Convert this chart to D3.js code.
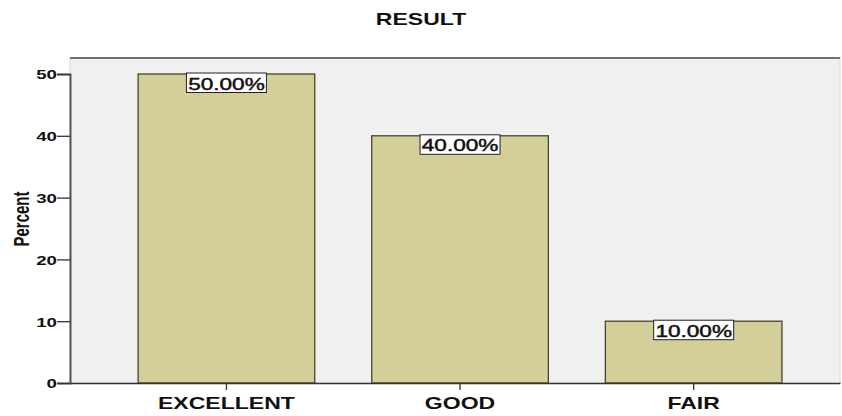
<!DOCTYPE html>
<html>
<head>
<meta charset="utf-8">
<script src="https://cdn.jsdelivr.net/npm/d3@7"></script>
<style>
  body { margin: 0; background: #fff; }
  text { font-family: "Liberation Sans", Arial, sans-serif; }
</style>
</head>
<body>
<div id="canvas"></div>
<script>
const categories = ['EXCELLENT', 'GOOD', 'FAIR'];
const percents = [50, 40, 10];
const yTicks = [0, 10, 20, 30, 40, 50];

const W = 842, H = 416;
const plotLeft = 70, plotRight = 840, plotTop = 58, plotBottom = 383;
const stretch = 1.44; // picture is widened sideways
const barColor = '#d4cf99', edgeColor = '#45452c';

const Svg = d3.select('#canvas').append('svg')
  .attr('width', W)
  .attr('height', H);

const xScale = d3.scaleBand()
  .domain(categories)
  .range([plotLeft, plotRight])
  .paddingInner(0.244)
  .paddingOuter(0.27)
  .align(0.54);

const yScale = d3.scaleLinear()
  .domain([0, 50])
  .range([plotBottom, 74]);

// plot background
Svg.append('rect')
  .attr('x', plotLeft).attr('y', plotTop)
  .attr('width', plotRight - plotLeft).attr('height', plotBottom - plotTop)
  .attr('fill', '#f0f0f0')
  .attr('stroke', '#d8d8d8');

Svg.append('line')
  .attr('x1', plotLeft).attr('x2', plotRight)
  .attr('y1', plotTop).attr('y2', plotTop)
  .attr('stroke', '#707070').attr('stroke-width', 2);

// bars
Svg.selectAll('rect.bar')
  .data(categories)
  .enter()
  .append('rect')
  .attr('class', 'bar')
  .attr('x', d => xScale(d))
  .attr('y', (d, i) => yScale(percents[i]))
  .attr('width', xScale.bandwidth())
  .attr('height', (d, i) => plotBottom - yScale(percents[i]))
  .attr('fill', barColor)
  .attr('stroke', edgeColor)
  .attr('stroke-width', 1.3);

// axes
const yAxis = d3.axisLeft(yScale)
  .tickValues(yTicks)
  .tickSize(13)
  .tickPadding(1);

const yG = Svg.append('g')
  .attr('transform', `translate(${plotLeft}, 0)`)
  .call(yAxis);
yG.select('.domain').attr('stroke', '#555').attr('stroke-width', 2);
yG.selectAll('.tick line').attr('stroke', '#333').attr('stroke-width', 1.3);
yG.selectAll('.tick text')
  .attr('x', 0).attr('dy', null)
  .attr('dominant-baseline', 'central')
  .attr('font-size', '13px')
  .attr('font-weight', 'bold')
  .attr('fill', '#111')
  .attr('text-anchor', 'end')
  .attr('transform', `translate(-13, 0) scale(${stretch}, 1)`);

const xAxis = d3.axisBottom(xScale)
  .tickSize(7)
  .tickSizeOuter(0);

const xG = Svg.append('g')
  .attr('transform', `translate(0, ${plotBottom})`)
  .call(xAxis);
xG.select('.domain').attr('stroke', '#333').attr('stroke-width', 1.5);
xG.selectAll('.tick line').attr('stroke', '#333').attr('stroke-width', 1.3);
xG.selectAll('.tick text')
  .attr('y', 0).attr('dy', null)
  .attr('font-size', '16px')
  .attr('font-weight', 'bold')
  .attr('fill', '#111')
  .attr('transform', `translate(0, 26) scale(${stretch}, 1)`);

// value labels
const labels = Svg.selectAll('g.label')
  .data(categories)
  .enter()
  .append('g')
  .attr('class', 'label')
  .attr('transform', (d, i) => `translate(${xScale(d) + xScale.bandwidth() / 2}, ${yScale(percents[i]) - 1})`);

labels.append('rect')
  .attr('x', -40).attr('y', 0)
  .attr('width', 80).attr('height', 19.5)
  .attr('fill', '#fff')
  .attr('stroke', '#222')
  .attr('stroke-width', 1);

labels.append('text')
  .text((d, i) => percents[i].toFixed(2) + '%')
  .attr('text-anchor', 'middle')
  .attr('font-size', '16.5px')
  .attr('fill', '#111')
  .attr('stroke', '#111')
  .attr('stroke-width', 0.45)
  .attr('transform', 'translate(0, 16.5) scale(1.37, 1)');

// titles
Svg.append('text')
  .text('RESULT')
  .attr('text-anchor', 'middle')
  .attr('font-size', '16px')
  .attr('font-weight', 'bold')
  .attr('fill', '#111')
  .attr('transform', `translate(421, 25) scale(${stretch}, 1)`);

Svg.append('text')
  .text('Percent')
  .attr('text-anchor', 'middle')
  .attr('dominant-baseline', 'central')
  .attr('font-size', '15px')
  .attr('font-weight', 'bold')
  .attr('fill', '#111')
  .attr('transform', `translate(21, 219) scale(${stretch}, 1) rotate(-90)`);
</script>
</body>
</html>
